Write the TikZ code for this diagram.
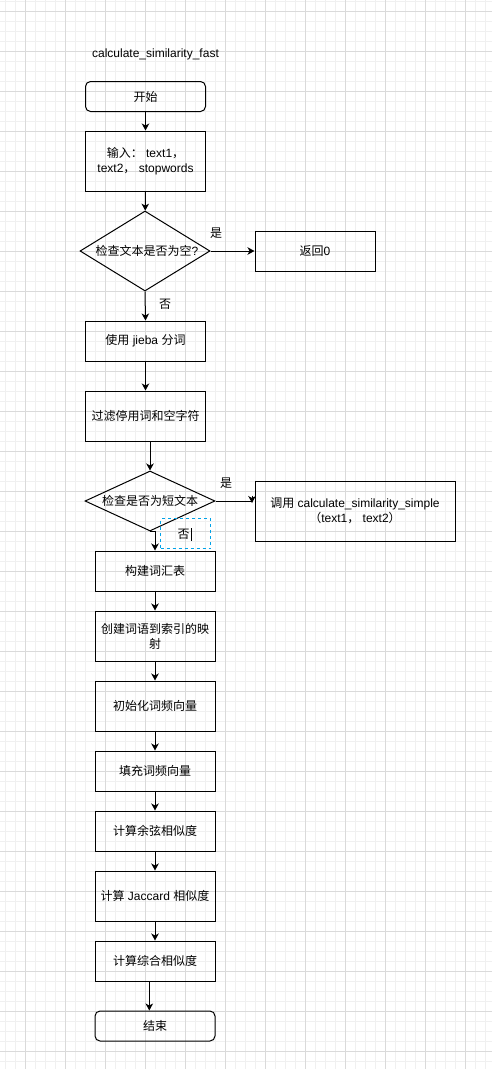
\documentclass[tikz,border=0pt]{standalone}
\usepackage{fontspec}
\setmainfont{Liberation Sans}
\newfontfamily\cjk{Noto Sans CJK SC}
\usetikzlibrary{shapes.geometric,arrows.meta,calc}
\definecolor{gridminor}{HTML}{F0F0F0}
\definecolor{gridmajor}{HTML}{DADADA}
\definecolor{selblue}{HTML}{00A2E8}
\begin{document}
\begin{tikzpicture}[x=1pt,y=-1pt,
  font=\fontsize{12}{15}\selectfont,
  box/.style={draw, line width=1pt, minimum width=120pt, minimum height=40pt, align=center, inner sep=0pt},
  rbox/.style={box, rounded corners=5pt, minimum height=30pt},
  dia/.style={draw, line width=1pt, diamond, inner sep=0pt},
  lbl/.style={inner sep=0pt},
  arr/.style={line width=1pt, -{Stealth[length=7pt,width=7.5pt,inset=2pt]}},
  plain/.style={line width=1pt}]
% background and grid
\fill[white] (0,0) rectangle (492,1069);
\useasboundingbox (0,0) rectangle (492,1069);
\foreach \x in {5.5,15.5,...,485.5} \draw[gridminor, line width=1pt] (\x,0) -- (\x,1069);
\foreach \y in {1.5,11.5,...,1061.5} \draw[gridminor, line width=1pt] (0,\y) -- (492,\y);
\foreach \x in {25.5,65.5,...,465.5} \draw[gridmajor, line width=1pt] (\x,0) -- (\x,1069);
\foreach \y in {11.5,51.5,...,1051.5} \draw[gridmajor, line width=1pt] (0,\y) -- (492,\y);

% title
\node[lbl] (title) at (155.5,54) {calculate\_similarity\_fast};

% nodes
\node[rbox] (start) at (145.5,96.5) {{\cjk 开始}};
\node[box, minimum height=60pt] (input) at (145.5,161) {{\cjk 输入：} text1{\cjk ，}\\text2{\cjk ，} stopwords};
\node[dia, minimum width=130pt, minimum height=80pt] (d1) at (145,251) {};
\node[lbl] (d1t) at (147,251) {{\cjk 检查文本是否为空}?};
\node[box] (ret0) at (315,251) {{\cjk 返回}0};
\node[box] (jieba) at (145.5,341) {{\cjk 使用} jieba {\cjk 分词}};
\node[box, minimum height=50pt] (filter) at (145.5,416) {{\cjk 过滤停用词和空字符}};
\node[dia, minimum width=130pt, minimum height=60pt] (d2) at (150,501) {};
\node[lbl] (d2t) at (150,501) {{\cjk 检查是否为短文本}};
\node[box, minimum width=200pt, minimum height=60pt] (call) at (355,511) {{\cjk 调用} calculate\_similarity\_simple\\{\cjk （}text1{\cjk ，} text2{\cjk ）}};
\node[box] (n1) at (155,571) {{\cjk 构建词汇表}};
\node[box, minimum height=50pt] (n2) at (155,636) {{\cjk 创建词语到索引的映}\\{\cjk 射}};
\node[box, minimum height=50pt] (n3) at (155,706) {{\cjk 初始化词频向量}};
\node[box] (n4) at (155,771) {{\cjk 填充词频向量}};
\node[box] (n5) at (155,831) {{\cjk 计算余弦相似度}};
\node[box, minimum height=50pt] (n6) at (155,896) {{\cjk 计算} Jaccard {\cjk 相似度}};
\node[box] (n7) at (155,961) {{\cjk 计算综合相似度}};
\node[rbox] (end) at (155,1026) {{\cjk 结束}};

% labels
\node[lbl] (y1) at (216,233) {{\cjk 是}};
\node[lbl] (no1) at (165,304) {{\cjk 否}};
\node[lbl] (y2) at (226,483) {{\cjk 是}};
\node[draw=selblue, line width=1pt, dash pattern=on 3pt off 3pt, minimum width=50pt, minimum height=30pt, inner sep=0pt] (sel) at (185.5,533.5) {};
\node[lbl] (no2) at (183.5,534) {{\cjk 否}};
\draw[line width=0.8pt] (191,528) -- (191,540.5);

% connectors
\draw[arr] (start) -- (input);
\draw[arr] (input) -- (d1);
\draw[arr] (d1.east) -- (ret0.west);
\draw[arr] (d1.south) -- (jieba.north);
\draw[arr] (jieba) -- (filter);
\draw[arr] (d2.north |- filter.south) -- (d2.north);
\coordinate (ctip) at (252,503);
\draw[plain] (d2.east) -- (d2.east -| ctip);
\draw[arr] ($(ctip)+(0,-7.5)$) -- (ctip);
\draw[arr] (d2.south) -| (n1.north);
\draw[arr] (n1) -- (n2);
\draw[arr] (n2) -- (n3);
\draw[arr] (n3) -- (n4);
\draw[arr] (n4) -- (n5);
\draw[arr] (n5) -- (n6);
\draw[arr] (n6) -- (n7);
\coordinate (ex) at (149.3,995);
\draw[arr] (n7.south -| ex) -- (end.north -| ex);
\end{tikzpicture}
\end{document}
